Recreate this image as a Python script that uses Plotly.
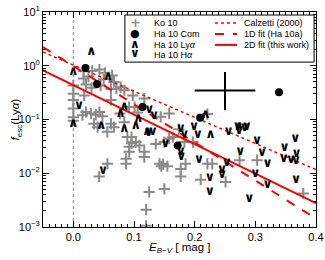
import plotly.graph_objects as go

# ---------------- data ----------------
ko_E = [0.0, 0.0, 0.0, 0.0, 0.0, 0.0,
        0.017, 0.031, 0.017, 0.025, 0.043, 0.052, 0.050, 0.064, 0.067, 0.021,
        0.030, 0.045, 0.062, 0.078, 0.084, 0.071, 0.098, 0.092, 0.117, 0.062,
        0.018, 0.015, 0.021, 0.029, 0.037, 0.043, 0.048, 0.034, 0.040, 0.062,
        0.067, 0.056, 0.077, 0.089, 0.096, 0.084, 0.101, 0.106, 0.158, 0.144,
        0.164, 0.174, 0.150, 0.221, 0.158, 0.183, 0.197,
        0.0426, 0.0563, 0.087, 0.087, 0.092, 0.092, 0.096, 0.117, 0.117, 0.103,
        0.109, 0.136, 0.142, 0.148, 0.155, 0.145, 0.177, 0.177, 0.185, 0.125,
        0.150, 0.120, 0.120, 0.210, 0.221, 0.229, 0.274, 0.303, 0.251, 0.379]
ko_f = [0.43, 0.30, 0.23, 0.16, 0.11, 0.095,
        0.79, 0.80, 0.58, 0.63, 0.85, 0.74, 0.56, 0.66, 0.50, 0.45,
        0.39, 0.43, 0.37, 0.40, 0.35, 0.375, 0.28, 0.17, 0.245, 0.23,
        0.28, 0.12, 0.138, 0.129, 0.123, 0.138, 0.115, 0.083, 0.072, 0.083,
        0.072, 0.059, 0.129, 0.047, 0.047, 0.089, 0.17, 0.135, 0.13, 0.112,
        0.047, 0.066, 0.038, 0.126, 0.044, 0.038, 0.038,
        0.0087, 0.015, 0.015, 0.0186, 0.025, 0.031, 0.036, 0.025, 0.020, 0.038,
        0.033, 0.035, 0.015, 0.0148, 0.0135, 0.0135, 0.012, 0.0087, 0.015, 0.0045,
        0.0051, 0.0021, 0.00105, 0.0076, 0.015, 0.015, 0.0175, 0.0175, 0.0069, 0.0042]

com_E = [0.020, 0.039, 0.114, 0.209, 0.339, 0.172]
com_f = [0.91, 0.46, 0.17, 0.108, 0.32, 0.033]

lya_E = [0.0295, 0.0, 0.057, 0.084, 0.078, 0.107, 0.046, 0.0, 0.084, 0.103,
         0.122, 0.218, 0.226, 0.273]
lya_f = [1.80, 0.76, 0.62, 0.176, 0.128, 0.104, 0.076, 0.084, 0.068, 0.078,
         0.058, 0.12, 0.053, 0.074]

ha_E = [0.0093, 0.125, 0.133, 0.131, 0.124, 0.152, 0.049, 0.177, 0.199, 0.183,
        0.205, 0.177, 0.178, 0.207, 0.225, 0.225, 0.245, 0.245, 0.253, 0.275,
        0.271, 0.286, 0.256, 0.303, 0.320, 0.300, 0.290, 0.320, 0.347, 0.359,
        0.367, 0.368, 0.348, 0.366, 0.367, 0.311, 0.282, 0.273]
ha_f = [0.18, 0.15, 0.115, 0.059, 0.057, 0.035, 0.0113, 0.068, 0.074, 0.051,
        0.051, 0.025, 0.020, 0.0175, 0.0083, 0.0045, 0.0118, 0.0095, 0.016, 0.025,
        0.072, 0.072, 0.059, 0.040, 0.015, 0.0097, 0.0034, 0.0061, 0.019, 0.018,
        0.017, 0.023, 0.030, 0.044, 0.0076, 0.024, 0.069, 0.062]

fit_E = [-0.05, 0.4]
calzetti_f = [1.80, 0.0117]
fit1d_f = [2.23, 0.00143]
fit2d_f = [0.82, 0.00279]

err_E, err_f = [0.25], [0.348]
err_dE = [0.05]
err_df_hi, err_df_lo = [0.415], [0.20]

x_ticks = [0.0, 0.1, 0.2, 0.3, 0.4]
y_ticks = [1e-3, 1e-2, 1e-1, 1, 10]
y_ticktext = ["10<sup>\u22123</sup>", "10<sup>\u22122</sup>", "10<sup>\u22121</sup>",
              "10<sup>0</sup>", "10<sup>1</sup>"]
y_minor = [m * 10.0 ** k for k in range(-3, 1) for m in range(2, 10)]

FONT = "Liberation Sans, Arial, sans-serif"
GRAY = "#8a8a8a"
RED = "#ff0000"
CHEV_FONT = dict(family="DejaVu Sans", size=13, color="black", weight="bold")

fig = go.Figure()

fig.add_trace(go.Scatter(x=ko_E, y=ko_f, mode="markers", name="Ko 10",
                         marker=dict(symbol="cross-thin", size=8,
                                     line=dict(color=GRAY, width=2))))
fig.add_trace(go.Scatter(x=fit_E, y=calzetti_f, mode="lines", name="Calzetti (2000)",
                         line=dict(color=RED, width=1.5, dash="dot")))
fig.add_trace(go.Scatter(x=fit_E, y=fit1d_f, mode="lines", name="1D fit (Ha 10a)",
                         line=dict(color=RED, width=2, dash="dash")))
fig.add_trace(go.Scatter(x=fit_E, y=fit2d_f, mode="lines", name="2D fit (this work)",
                         line=dict(color=RED, width=2)))
fig.add_trace(go.Scatter(x=lya_E, y=lya_f, mode="text", name="Ha 10 Lya",
                         text=["\u2227"] * len(lya_E), textposition="middle center",
                         textfont=CHEV_FONT))
fig.add_trace(go.Scatter(x=ha_E, y=ha_f, mode="text", name="Ha 10 Ha",
                         text=["\u2228"] * len(ha_E), textposition="middle center",
                         textfont=CHEV_FONT))
fig.add_trace(go.Scatter(x=com_E, y=com_f, mode="markers", name="Ha 10 Com",
                         marker=dict(symbol="circle", size=8, color="black")))
fig.add_trace(go.Scatter(x=err_E, y=err_f, mode="markers", name="err",
                         marker=dict(size=1, color="rgba(0,0,0,0)"),
                         error_x=dict(type="data", array=err_dE, color="black",
                                      thickness=2, width=0),
                         error_y=dict(type="data", array=err_df_hi, arrayminus=err_df_lo,
                                      color="black", thickness=2, width=0)))

# vertical reference line at E(B-V)=0
fig.add_shape(type="line", xref="x", yref="paper", x0=0, x1=0, y0=0, y1=1,
              line=dict(color="#808080", width=1, dash="dot"), layer="below")

# ---------------- manual legend ----------------
fig.add_shape(type="rect", xref="paper", yref="paper", x0=0.300, x1=0.993,
              y0=0.767, y1=0.986, line=dict(color="black", width=1),
              fillcolor="white", layer="above")
left_rows = [0.949, 0.898, 0.847, 0.798]
left_labels = ["Ko 10", "Ha 10 Com", "Ha 10 Ly<i>\u03b1</i>", "Ha 10 H<i>\u03b1</i>"]
for yy, lab in zip(left_rows, left_labels):
    fig.add_annotation(xref="paper", yref="paper", x=0.399, y=yy, text=lab,
                       showarrow=False, xanchor="left", yanchor="middle",
                       font=dict(family=FONT, size=9, color="black"))
sym_specs = [("+", GRAY, 13, "bold", left_rows[0]),
             ("\u25cf", "black", 11, "normal", left_rows[1]),
             ("\u2227", "black", 12, "bold", left_rows[2] + 0.005),
             ("\u2228", "black", 12, "bold", left_rows[3] + 0.01)]
for txt, col, sz, wt, yy in sym_specs:
    fig.add_annotation(xref="paper", yref="paper", x=0.337, y=yy, text=txt,
                       showarrow=False, xanchor="center", yanchor="middle",
                       font=dict(family="DejaVu Sans", size=sz, color=col, weight=wt))
right_rows = [0.949, 0.898, 0.847]
right_labels = ["Calzetti (2000)", "1D fit (Ha 10a)", "2D fit (this work)"]
right_styles = [("dot", 1.5), ("dash", 2), ("solid", 2)]
for yy, lab, (dsh, wd) in zip(right_rows, right_labels, right_styles):
    fig.add_shape(type="line", xref="paper", yref="paper", x0=0.630, x1=0.711,
                  y0=yy, y1=yy, line=dict(color=RED, width=wd, dash=dsh), layer="above")
    fig.add_annotation(xref="paper", yref="paper", x=0.729, y=yy, text=lab,
                       showarrow=False, xanchor="left", yanchor="middle",
                       font=dict(family=FONT, size=9, color="black"))

# axis titles as annotations (precise placement)
fig.add_annotation(xref="paper", yref="paper", x=0.5, y=-0.098,
                   text="<i>E</i><sub><i>B\u2212V</i></sub> [ mag ]", showarrow=False,
                   xanchor="center", yanchor="middle",
                   font=dict(family=FONT, size=11.5, color="black"))
fig.add_annotation(xref="paper", yref="paper", x=-0.099, y=0.5, textangle=-90,
                   text="<i>f</i><sub>esc</sub>(Ly<i>\u03b1</i>)", showarrow=False,
                   xanchor="center", yanchor="middle",
                   font=dict(family=FONT, size=11.5, color="black"))

axis_common = dict(showgrid=False, zeroline=False, showline=True, linecolor="black",
                   linewidth=1, mirror="allticks", ticks="inside", tickcolor="black",
                   tickwidth=1, automargin=False,
                   tickfont=dict(family=FONT, size=11, color="black"))

fig.update_xaxes(range=[-0.05, 0.4], tickmode="array", tickvals=x_ticks,
                 ticktext=[f"{v:.1f}" for v in x_ticks], ticklen=6,
                 minor=dict(dtick=0.01, tick0=0, ticks="inside", ticklen=3,
                            tickcolor="black", tickwidth=1),
                 **axis_common)
fig.update_yaxes(type="log", range=[-3, 1], tickmode="array", tickvals=y_ticks,
                 ticktext=y_ticktext, ticklen=6,
                 minor=dict(tickmode="array", tickvals=y_minor, ticks="inside",
                            ticklen=3, tickcolor="black", tickwidth=1),
                 **axis_common)

fig.update_layout(width=325, height=260, margin=dict(l=43, r=9, t=12, b=33),
                  paper_bgcolor="white", plot_bgcolor="white", showlegend=False,
                  hovermode=False,
                  font=dict(family=FONT, size=11, color="black"))

fig.write_html("out.html", config={"displayModeBar": False, "staticPlot": True},
               post_script="document.body.style.margin='0px';"
                           "document.body.style.overflow='hidden';")
